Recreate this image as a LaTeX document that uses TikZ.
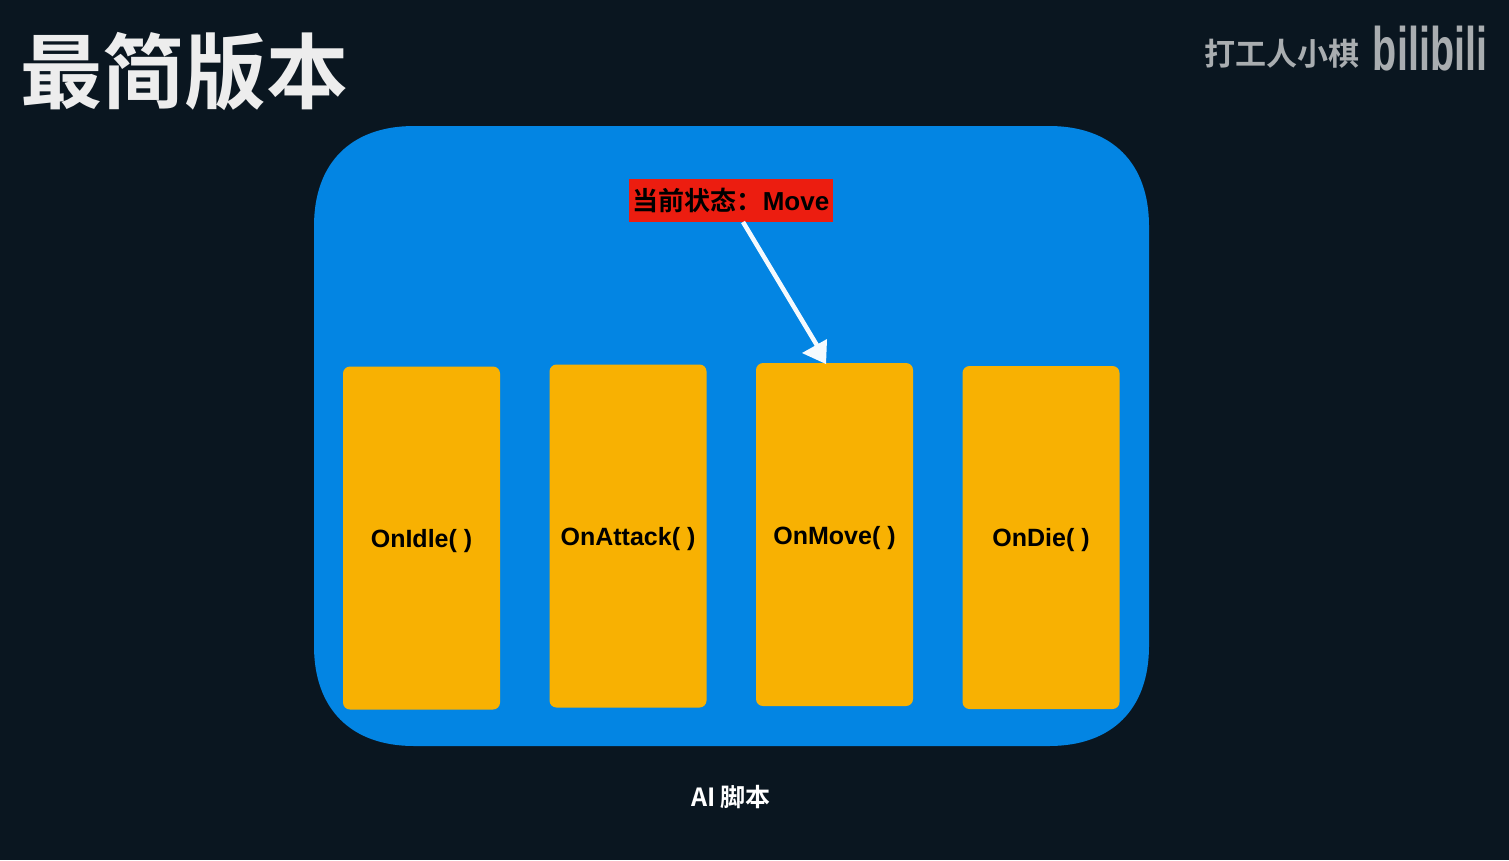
\documentclass[tikz,border=0pt]{standalone}
\usepackage{fontspec}
\setmainfont{Liberation Sans}
\newfontfamily\cjk{Noto Sans CJK SC}[BoldFont={* Bold}]
\definecolor{bgc}{HTML}{0A1620}
\definecolor{bluec}{HTML}{0385E3}
\definecolor{yelc}{HTML}{F8B102}
\definecolor{redc}{HTML}{EC1D10}
\definecolor{grayc}{HTML}{A9ADB0}
\tikzset{x=1pt,y=-1pt,
 card/.style={fill=yelc,rounded corners=7pt,minimum width=157pt,minimum height=343pt,inner sep=0pt,text=black},
 cardtext/.style={inner sep=0pt,font=\bfseries\fontsize{25}{25}\selectfont,text=black}}
\begin{document}
\begin{tikzpicture}
\fill[bgc] (0,0) rectangle (1509,860);
\useasboundingbox (0,0) rectangle (1509,860);
\node[inner sep=0,text=white!93!black,anchor=center,font=\cjk\bfseries\fontsize{82}{82}\selectfont] (title) at (184,71) {最简版本};
\node[inner sep=0,text=grayc,anchor=center,font=\cjk\bfseries\fontsize{31}{31}\selectfont] (author) at (1282,54) {打工人小棋};
\node[inner sep=0,text=grayc,anchor=center,xscale=.76,yscale=1.18,font=\bfseries\fontsize{52}{52}\selectfont] (logo) at (1430,49) {bilibili};
\fill[bluec] (314,226) .. controls (314,163) and (351,126) .. (414,126)
  -- (1049,126) .. controls (1112,126) and (1149,163) .. (1149,226)
  -- (1149,646) .. controls (1149,709) and (1112,746) .. (1049,746)
  -- (414,746) .. controls (351,746) and (314,709) .. (314,646) -- cycle;
\node[card] (a) at (421.5,538) {};
\node[card] (b) at (628,536) {};
\node[card] (c) at (834.5,534.5) {};
\node[card] (d) at (1041,537.5) {};
\node[cardtext] at (421.5,541) {OnIdle( )};
\node[cardtext] at (628,539) {OnAttack( )};
\node[cardtext] at (834.5,538) {OnMove( )};
\node[cardtext] at (1041,540) {OnDie( )};
\node[fill=redc,minimum width=204pt,minimum height=43pt,inner sep=0,font=\fontsize{26}{26}\selectfont,text=black] (s) at (731,200.5) {\cjk\bfseries 当前状态：\normalfont\bfseries Move};
\coordinate (e) at (826,364);
\draw[white!96!bluec,line width=4.5pt] (743,222) -- (818,347);
\fill[white!96!bluec] (826,364) -- (802,353) -- (827,339) -- cycle;
\node[inner sep=0,text=white,font=\cjk\bfseries\fontsize{25}{25}\selectfont] (cap) at (731,797) {AI 脚本};
\end{tikzpicture}
\end{document}
